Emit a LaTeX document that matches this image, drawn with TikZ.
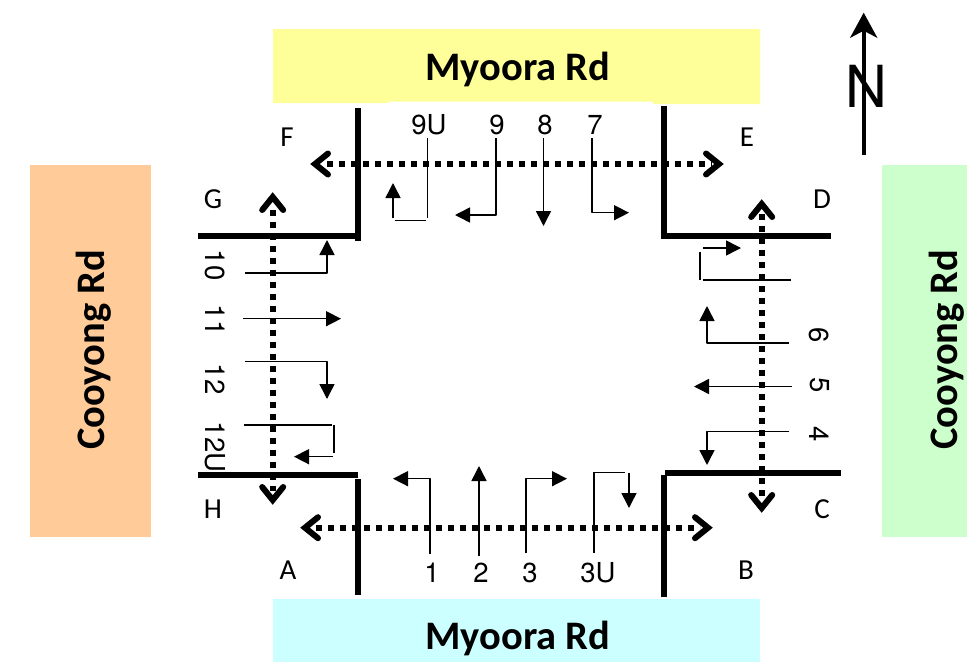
\documentclass[tikz,border=0pt]{standalone}
\usepackage{fontspec}
\setmainfont{TeX Gyre Heros}
\newfontfamily\roadfont{Carlito}
\usetikzlibrary{arrows.meta}
\definecolor{roadyellow}{HTML}{FFFF99}
\definecolor{roadcyan}{HTML}{CCFFFF}
\definecolor{roadorange}{HTML}{FFCC99}
\definecolor{roadgreen}{HTML}{CCFFCC}
\begin{document}
\begin{tikzpicture}[x=1pt,y=-1pt]
    \tikzstyle{road}=[font=\roadfont\fontsize{40.5}{40.5}\selectfont\bfseries, text=black]
    \tikzstyle{kerb}=[line width=5.5pt, line cap=butt]
    \tikzstyle{walk}=[line width=6pt, dash pattern=on 6pt off 6pt]
    \tikzstyle{chevron}=[line width=6pt, line cap=round, line join=miter]
    \tikzstyle{move}=[line width=1.5pt, line join=round, -{Triangle[length=15pt,width=15pt]}]
    \tikzstyle{lane}=[line width=1.5pt]
    \tikzstyle{num}=[font=\fontsize{27.5}{27.5}\selectfont, inner sep=0pt]
    \tikzstyle{letter}=[font=\roadfont\fontsize{29}{29}\selectfont, inner sep=0pt]

    \useasboundingbox (0,0) rectangle (967,662);

    % road names
    \fill[roadyellow] (273,29) -- (760,29) -- (760,104) -- (653,104) -- (653,101.7) -- (388,101.7) -- (388,103) -- (273,103) -- cycle;
    \fill[roadcyan] (273,599) rectangle (760,662);
    \fill[roadorange] (30,165) rectangle (151,537);
    \fill[roadgreen] (882,165) rectangle (967,537);
    \node[road] (north) at (518,69) {Myoora Rd};
    \node[road] (south) at (518,638) {Myoora Rd};
    \node[road,rotate=90] (west) at (93.5,350) {Cooyong Rd};
    \node[road,rotate=90] (east) at (946.5,349.5) {Cooyong Rd};

    % kerbs
    \draw[kerb] (198,236) -- (361,236);
    \draw[kerb] (358,108) -- (358,241);
    \draw[kerb] (661,236) -- (831,236);
    \draw[kerb] (664,106) -- (664,238);
    \draw[kerb] (665,473) -- (841,473);
    \draw[kerb] (664,475) -- (664,597);
    \draw[kerb] (198,475) -- (358,475);
    \draw[kerb] (358,479) -- (358,595);

    % crossings
    \draw[walk] (327,164) -- (712,164);
    \draw[walk] (316,527.7) -- (700,527.7);
    \draw[walk] (272.7,210) -- (272.7,491);
    \draw[walk] (761.7,214) -- (761.7,498);
    \foreach \x/\y/\dx/\dy in {315/164/1/0, 719/164/-1/0, 305/527.7/1/0, 708/527.7/-1/0,
        272.7/197/0/1, 272.7/500/0/-1, 761.7/204/0/1, 761.7/508/0/-1}
      {\draw[chevron] (\x+13*\dx+10.5*\dy,\y+13*\dy+10.5*\dx) -- (\x,\y) -- (\x+13*\dx-10.5*\dy,\y+13*\dy-10.5*\dx);}

    % corner letters
    \foreach \name/\x/\y in {F/287/137, G/213/199, H/213/509, A/288/570, B/746/570, C/822/509, D/822/199, E/747/137}
      {\node[letter] (corner\name) at (\x,\y) {\name};}

    % lane numbers
    \foreach \name/\x/\y in {9U/429/125, 9/497/125, 8/545/125, 7/595/125, 1/432/573, 2/481/573, 3/530/573, 3U/598/573}
      {\node[num] (lane\name) at (\x,\y) {\name};}
    \foreach \name/\y in {10/265, 11/320, 12/379, 12U/447}
      {\node[num,rotate=-90] (lane\name) at (215.5,\y) {\name};}
    \foreach \name/\y in {6/335, 5/385, 4/434}
      {\node[num,rotate=-90] (lane\name) at (819.5,\y) {\name};}

    % movements
    \draw[move] (430,554) |- (393,478.7);
    \draw[move] (479,556) -- (479,466);
    \draw[move] (526,553) |- (567,478.7);
    \draw[lane] (594,553) |- (625,472.7);
    \draw[move] (629,473) -- (629,508);

    \draw[move] (789,431.7) -| (707,465);
    \draw[move] (792,386.5) -- (694,386.5);
    \draw[move] (789,343) -| (707,306);
    \draw[lane] (791,280) -- (703,280);
    \draw[lane] (700,280) -- (700,252);
    \draw[move] (703,248) -- (741,248);

    \draw[move] (592,138) |- (629,212.7);
    \draw[move] (543.5,138) -- (543.5,226);
    \draw[move] (496,138) |- (455,215);
    \draw[lane] (427.7,138) -- (427.7,218);
    \draw[lane] (425.7,220.7) -- (395,220.7);
    \draw[move] (393,218) -- (393,183);

    \draw[move] (245,273) -| (327,240);
    \draw[move] (243,318.7) -- (341,318.7);
    \draw[move] (245,361.7) -| (327,399);
    \draw[lane] (244,425) -- (332,425);
    \draw[lane] (334,425) -- (334,452.7);
    \draw[move] (332.7,456.7) -- (294,456.7);

    % north arrow
    \draw[line width=4pt, -{Stealth[length=25pt,width=27pt,inset=7pt]}] (863.7,155) -- (863.7,12.7);
    \node[font=\fontsize{58}{58}\selectfont, inner sep=0pt] (northmark) at (866.5,86) {N};
\end{tikzpicture}
\end{document}
